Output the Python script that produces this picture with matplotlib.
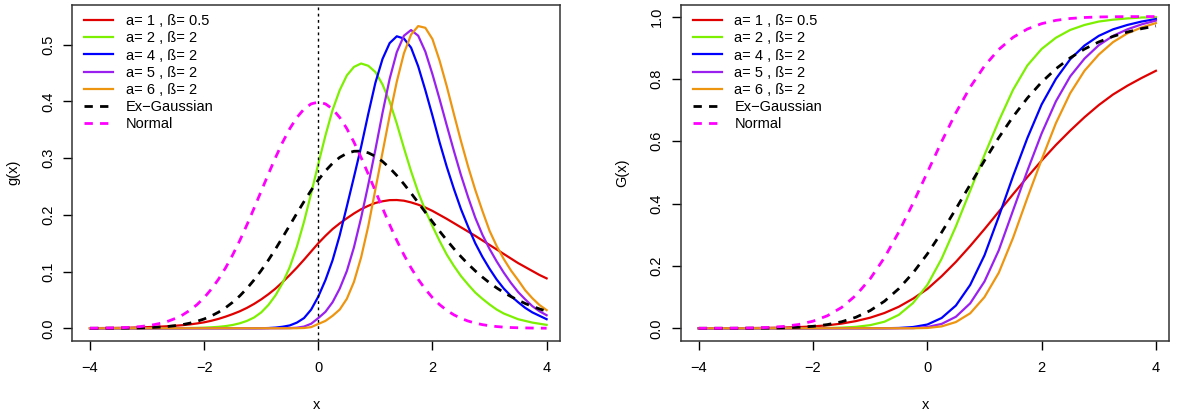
import numpy as np
import matplotlib.pyplot as plt

plt.rcParams['font.family'] = ['Liberation Sans', 'DejaVu Sans']
plt.rcParams['font.size'] = 10.5

# sampling grids: densities every 0.125, distribution functions every 0.25
x_pdf = np.linspace(-4, 4, 65)
x_cdf = np.linspace(-4, 4, 33)

labels = ['a= 1 , ß= 0.5', 'a= 2 , ß= 2', 'a= 4 , ß= 2', 'a= 5 , ß= 2',
          'a= 6 , ß= 2', 'Ex\u2212Gaussian', 'Normal']
colors = ['#E00000', '#7CF000', '#0000FF', '#9A20F0', '#EE9510', 'black', '#FF00FF']

# densities g(x)
pdf_red = [0.0002, 0.0003, 0.0004, 0.0005, 0.0007, 0.0009, 0.0012, 0.0016,
           0.0020, 0.0025, 0.0030, 0.0037, 0.0045, 0.0055, 0.0068, 0.0085,
           0.0105, 0.0132, 0.0165, 0.0205, 0.0250, 0.0300, 0.0360, 0.0430,
           0.0510, 0.0600, 0.0700, 0.0815, 0.0940, 0.1070, 0.1210, 0.1355,
           0.1500, 0.1630, 0.1750, 0.1850, 0.1940, 0.2025, 0.2100, 0.2160,
           0.2210, 0.2240, 0.2260, 0.2262, 0.2250, 0.2220, 0.2180, 0.2130,
           0.2070, 0.2000, 0.1930, 0.1855, 0.1780, 0.1705, 0.1630, 0.1550,
           0.1470, 0.1390, 0.1310, 0.1230, 0.1150, 0.1080, 0.1010, 0.0940,
           0.0880]
pdf_green = [0, 0, 0, 0, 0, 0, 0, 0,
             0.0001, 0.0001, 0.0001, 0.0002, 0.0002, 0.0003, 0.0005, 0.0007,
             0.0011, 0.0017, 0.0025, 0.0038, 0.0058, 0.0088, 0.0130, 0.0190,
             0.0280, 0.0410, 0.0580, 0.0800, 0.1080, 0.1440, 0.1880, 0.2380,
             0.2900, 0.3400, 0.3850, 0.4200, 0.4460, 0.4610, 0.4670, 0.4630,
             0.4520, 0.4300, 0.4000, 0.3610, 0.3180, 0.2770, 0.2400, 0.2080,
             0.1800, 0.1540, 0.1300, 0.1100, 0.0920, 0.0770, 0.0630, 0.0520,
             0.0420, 0.0330, 0.0260, 0.0210, 0.0160, 0.0130, 0.0100, 0.0080,
             0.0060]
pdf_blue = [0, 0, 0, 0, 0, 0, 0, 0,
            0, 0, 0, 0, 0, 0, 0, 0,
            0, 0, 0, 0, 0, 0, 0, 0,
            0.0001, 0.0004, 0.0012, 0.0027, 0.0050, 0.0100, 0.0180, 0.0330,
            0.0560, 0.0850, 0.1200, 0.1640, 0.2150, 0.2670, 0.3200, 0.3780,
            0.4330, 0.4750, 0.5030, 0.5150, 0.5110, 0.4950, 0.4620, 0.4200,
            0.3750, 0.3280, 0.2850, 0.2460, 0.2100, 0.1790, 0.1500, 0.1260,
            0.1050, 0.0860, 0.0700, 0.0570, 0.0460, 0.0360, 0.0280, 0.0220,
            0.0160]
pdf_purple = [0, 0, 0, 0, 0, 0, 0, 0,
              0, 0, 0, 0, 0, 0, 0, 0,
              0, 0, 0, 0, 0, 0, 0, 0,
              0, 0, 0, 0.0001, 0.0003, 0.0010, 0.0030, 0.0080,
              0.0180, 0.0290, 0.0460, 0.0700, 0.1010, 0.1430, 0.1950, 0.2530,
              0.3150, 0.3800, 0.4400, 0.4870, 0.5160, 0.5260, 0.5160, 0.4880,
              0.4480, 0.4040, 0.3580, 0.3130, 0.2700, 0.2310, 0.1950, 0.1650,
              0.1400, 0.1180, 0.0980, 0.0800, 0.0640, 0.0510, 0.0390, 0.0300,
              0.0230]
pdf_orange = [0, 0, 0, 0, 0, 0, 0, 0,
              0, 0, 0, 0, 0, 0, 0, 0,
              0, 0, 0, 0, 0, 0, 0, 0,
              0, 0, 0, 0, 0, 0.0001, 0.0005, 0.0020,
              0.0076, 0.0130, 0.0220, 0.0330, 0.0520, 0.0820, 0.1250, 0.1800,
              0.2450, 0.3100, 0.3750, 0.4350, 0.4850, 0.5180, 0.5330, 0.5300,
              0.5100, 0.4720, 0.4270, 0.3780, 0.3300, 0.2850, 0.2440, 0.2070,
              0.1720, 0.1450, 0.1220, 0.1020, 0.0850, 0.0670, 0.0530, 0.0410,
              0.0320]
pdf_exg = [0.0000, 0.0000, 0.0001, 0.0001, 0.0002, 0.0003, 0.0005, 0.0007,
           0.0010, 0.0016, 0.0023, 0.0033, 0.0047, 0.0065, 0.0090, 0.0123,
           0.0164, 0.0217, 0.0283, 0.0363, 0.0459, 0.0572, 0.0703, 0.0853,
           0.1020, 0.1202, 0.1398, 0.1605, 0.1816, 0.2029, 0.2236, 0.2434,
           0.2616, 0.2776, 0.2910, 0.3014, 0.3085, 0.3122, 0.3125, 0.3095,
           0.3033, 0.2942, 0.2828, 0.2694, 0.2544, 0.2383, 0.2216, 0.2046,
           0.1877, 0.1712, 0.1554, 0.1404, 0.1263, 0.1132, 0.1012, 0.0902,
           0.0802, 0.0712, 0.0631, 0.0559, 0.0495, 0.0437, 0.0387, 0.0341,
           0.0302]
pdf_norm = [0.0001, 0.0002, 0.0004, 0.0006, 0.0009, 0.0013, 0.0020, 0.0030,
            0.0044, 0.0064, 0.0091, 0.0127, 0.0175, 0.0237, 0.0317, 0.0417,
            0.0540, 0.0689, 0.0863, 0.1065, 0.1295, 0.1549, 0.1826, 0.2119,
            0.2420, 0.2720, 0.3011, 0.3282, 0.3521, 0.3718, 0.3867, 0.3958,
            0.3989, 0.3958, 0.3867, 0.3718, 0.3521, 0.3282, 0.3011, 0.2720,
            0.2420, 0.2119, 0.1826, 0.1549, 0.1295, 0.1065, 0.0863, 0.0689,
            0.0540, 0.0417, 0.0317, 0.0237, 0.0175, 0.0127, 0.0091, 0.0064,
            0.0044, 0.0030, 0.0020, 0.0013, 0.0009, 0.0006, 0.0004, 0.0002,
            0.0001]

# distribution functions G(x)
cdf_red = [0.0001, 0.0002, 0.0003, 0.0005, 0.0009, 0.0015, 0.0024, 0.0038, 0.006,
           0.0095, 0.015, 0.023, 0.034, 0.049, 0.069, 0.095, 0.126, 0.167, 0.213,
           0.264, 0.318, 0.374, 0.430, 0.485, 0.538, 0.588, 0.634, 0.677, 0.716,
           0.750, 0.778, 0.803, 0.826]
cdf_green = [0, 0, 0, 0, 0, 0, 0.0001, 0.0002, 0.0004, 0.0009, 0.002, 0.0045, 0.010,
             0.021, 0.043, 0.081, 0.139, 0.223, 0.327, 0.441, 0.556, 0.665, 0.765,
             0.843, 0.896, 0.932, 0.957, 0.973, 0.984, 0.990, 0.994, 0.997, 0.998]
cdf_blue = [0, 0, 0, 0, 0, 0, 0, 0, 0, 0, 0, 0, 0, 0.0001, 0.001, 0.004, 0.012,
            0.033, 0.073, 0.139, 0.234, 0.358, 0.488, 0.610, 0.718, 0.800, 0.863,
            0.907, 0.938, 0.959, 0.973, 0.984, 0.992]
cdf_purple = [0, 0, 0, 0, 0, 0, 0, 0, 0, 0, 0, 0, 0, 0, 0, 0.0004, 0.004, 0.014,
              0.037, 0.080, 0.150, 0.250, 0.378, 0.505, 0.625, 0.728, 0.808, 0.865,
              0.908, 0.938, 0.959, 0.975, 0.987]
cdf_orange = [0, 0, 0, 0, 0, 0, 0, 0, 0, 0, 0, 0, 0, 0, 0, 0, 0.001, 0.006, 0.020,
              0.048, 0.100, 0.178, 0.290, 0.418, 0.541, 0.658, 0.754, 0.826, 0.878,
              0.918, 0.946, 0.965, 0.979]
cdf_exg = [0.0000, 0.0000, 0.0000, 0.0001, 0.0003, 0.0007, 0.0015, 0.0032, 0.0063,
           0.0118, 0.0209, 0.0353, 0.0567, 0.0868, 0.1269, 0.1777, 0.2384, 0.3077,
           0.3830, 0.4609, 0.5380, 0.6116, 0.6788, 0.7383, 0.7895, 0.8324, 0.8675,
           0.8958, 0.9185, 0.9363, 0.9503, 0.9612, 0.9698]
cdf_norm = [0.0000, 0.0001, 0.0002, 0.0006, 0.0013, 0.0030, 0.0062, 0.0122, 0.0228,
            0.0401, 0.0668, 0.1056, 0.1587, 0.2266, 0.3085, 0.4013, 0.5, 0.5987,
            0.6915, 0.7734, 0.8413, 0.8944, 0.9332, 0.9599, 0.9772, 0.9878, 0.9938,
            0.9970, 0.9987, 0.9994, 0.9998, 0.9999, 1.0000]

pdfs = [pdf_red, pdf_green, pdf_blue, pdf_purple, pdf_orange, pdf_exg, pdf_norm]
cdfs = [cdf_red, cdf_green, cdf_blue, cdf_purple, cdf_orange, cdf_exg, cdf_norm]

dash = (0, (3, 2.6))

fig = plt.figure(figsize=(11.79, 4.13), dpi=100)
ax1 = fig.add_axes([0.0611, 0.1751, 0.4139, 0.8135])
ax2 = fig.add_axes([0.5774, 0.1751, 0.4144, 0.8135])


def draw(ax, xs, series, ylim, yticks, ylabel):
    for i, (ys, col, lab) in enumerate(zip(series, colors, labels)):
        if i < 5:
            ax.plot(xs, ys, color=col, lw=1.6, label=lab)
        else:
            ax.plot(xs, ys, color=col, lw=2.0, linestyle=dash, label=lab)
    ax.set_xlim(-4.315, 4.235)
    ax.set_ylim(*ylim)
    ax.set_xticks([-4, -2, 0, 2, 4])
    ax.set_yticks(yticks)
    ax.set_yticklabels(['%.1f' % t for t in yticks], rotation=90, va='center')
    ax.tick_params(direction='out', length=6.3, width=1.0, pad=8, labelsize=10.5)
    ax.tick_params(axis='y', pad=6)
    for s in ax.spines.values():
        s.set_linewidth(1.1)
        s.set_color('#333333')
    ax.set_xlabel('x', labelpad=17)
    ax.set_ylabel(ylabel, labelpad=15)
    ax.legend(loc='upper left', bbox_to_anchor=(0.0246, 0.972), frameon=False,
              borderaxespad=0, borderpad=0, handlelength=2.0, handletextpad=0.85,
              labelspacing=0.22, fontsize=10.5)


draw(ax1, x_pdf, pdfs, (-0.0219, 0.5707), [0.0, 0.1, 0.2, 0.3, 0.4, 0.5], 'g(x)')
ax1.axvline(0, color='black', lw=1.0, linestyle=(0, (2, 2.5)))
draw(ax2, x_cdf, cdfs, (-0.0398, 1.038), [0.0, 0.2, 0.4, 0.6, 0.8, 1.0], 'G(x)')

fig.savefig('out.png', dpi=100)
